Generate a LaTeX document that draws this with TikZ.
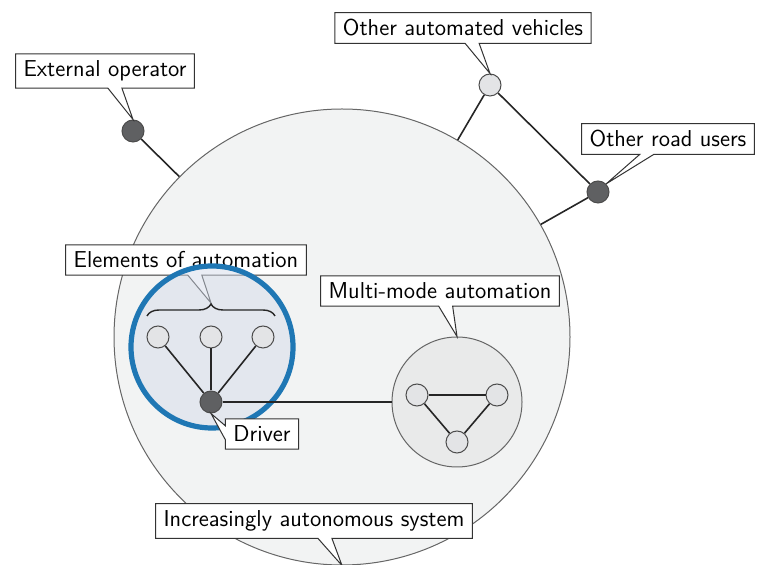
\documentclass[tikz,border=0pt]{standalone}
\usepackage{tikz}
\usetikzlibrary{shapes}
\usetikzlibrary{shapes.callouts}
\usetikzlibrary{decorations.pathreplacing}
\usetikzlibrary{positioning}
\definecolor{sysfill}{RGB}{242,243,243}
\definecolor{ringblue}{RGB}{31,119,180}
\definecolor{ringfill}{RGB}{214,221,235}
\definecolor{darkdot}{RGB}{95,96,98}
\definecolor{lightdot}{RGB}{227,228,230}
\definecolor{modefill}{RGB}{233,234,234}

\begin{document}
\begin{tikzpicture}[x=0.5pt,y=-0.5pt,font=\sffamily\fontsize{11.5}{13}\selectfont,
    dot/.style={circle,draw=black!70,line width=0.5pt,inner sep=0pt,minimum size=11pt},
    dark/.style={dot,fill=darkdot},
    light/.style={dot,fill=lightdot},
    link/.style={draw=black!85,line width=0.8pt},
    note/.style={rectangle callout,draw=black!80,fill=white,line width=0.5pt,
      inner xsep=4pt,inner ysep=3.5pt,callout pointer width=7pt}]
      \useasboundingbox (0,0) rectangle (765,565);
      \clip (0,0) rectangle (765,565);

      % system
      \node[circle,draw=black!60,fill=sysfill,line width=0.5pt,minimum size=228pt] (sys) at (342,337) {};

      % outside
      \node[dark]  (ext) at (133,131) {};
      \node[light] (veh) at (490,85)  {};
      \node[dark]  (road) at (598,192) {};
      \draw[link] (ext) -- (sys);
      \draw[link] (veh) -- (sys);
      \draw[link] (road) -- (sys);
      \draw[link] (veh) -- (road);

      \node[note,callout absolute pointer={(ext.north)}]  (extnote)  at (105,71)  {External operator};
      \node[note,callout absolute pointer={(veh.north)}]  (vehnote)  at (463,28)  {Other automated vehicles};
      \node[note,callout absolute pointer={(road.north east)}] (roadnote) at (668,139) {Other road users};

      % elements of automation
      \coordinate (bl) at (147,316);
      \coordinate (br) at (275,316);
      \coordinate (tip) at (211,303);
      \node[note,callout absolute pointer={(tip)}] (elemnote) at (186,260) {Elements of automation};
      \node[circle,draw=ringblue,line width=2.6pt,fill=ringfill,fill opacity=0.5,minimum size=81pt] (ring) at (212,347) {};
      \draw[decorate,decoration={brace,amplitude=6pt},black!85,line width=0.7pt] (bl) -- (br);

      \node[light] (e1) at (158,337) {};
      \node[light] (e2) at (211,337) {};
      \node[light] (e3) at (263,337) {};
      \node[dark]  (drv) at (211,402) {};
      \draw[link] (drv) -- (e1);
      \draw[link] (drv) -- (e2);
      \draw[link] (drv) -- (e3);

      % multi-mode
      \node[circle,draw=black!60,fill=modefill,line width=0.5pt,minimum size=65pt] (mode) at (457,402) {};
      \node[light] (m1) at (417,395) {};
      \node[light] (m2) at (497,395) {};
      \node[light] (m3) at (457,442) {};
      \draw[link] (m1) -- (m2);
      \draw[link] (m1) -- (m3);
      \draw[link] (m2) -- (m3);
      \draw[link] (drv) -- (mode);

      \node[note,callout absolute pointer={(drv.south)}]  (drvnote)  at (262,434) {Driver};
      \node[note,callout absolute pointer={(mode.north)}] (modenote) at (440,291) {Multi-mode automation};
      \node[note,callout absolute pointer={(sys.south)}]  (sysnote)  at (314,521) {Increasingly autonomous system};
\end{tikzpicture}
\end{document}
